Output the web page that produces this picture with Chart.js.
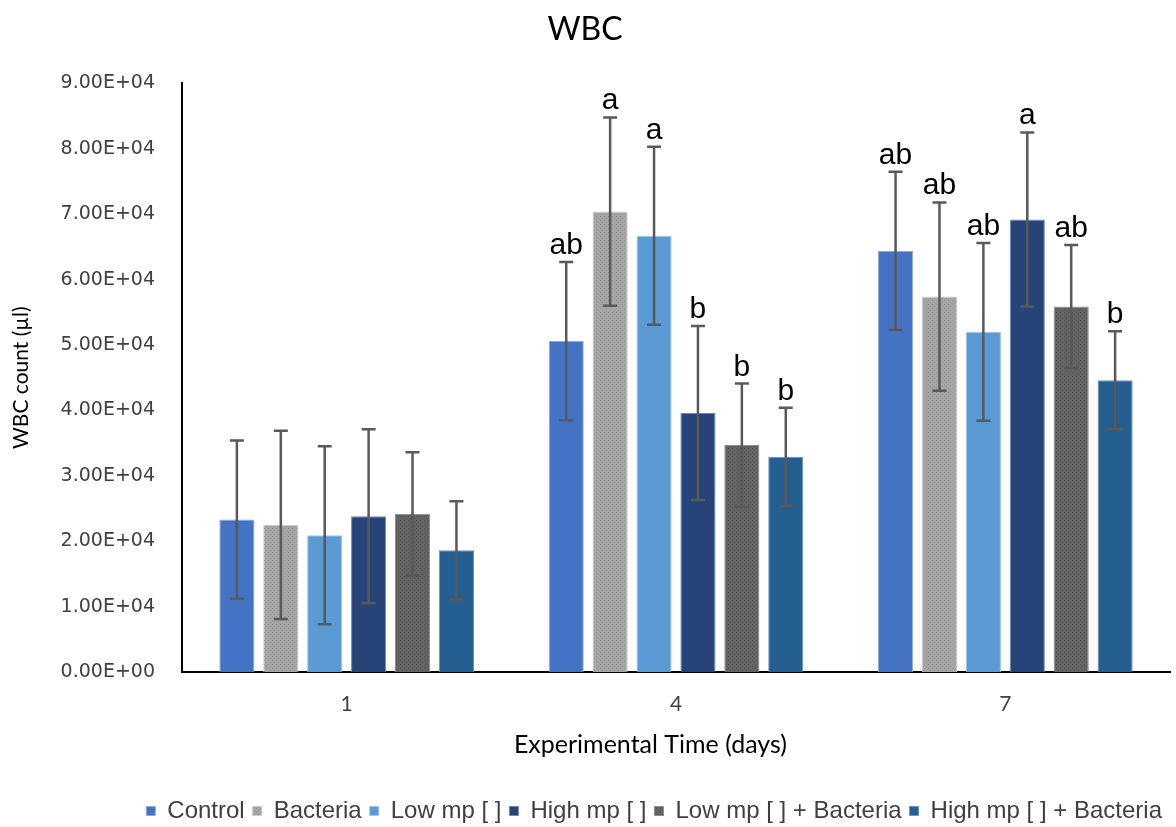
<!DOCTYPE html>
<html lang="en">

<head>
    <title>WBC</title>
    <meta charset="utf-8">
    <script src="https://cdn.jsdelivr.net/npm/chart.js"></script>
    <style>
        html, body { margin: 0; padding: 0; background: #fff; }
        #wrap { width: 1176px; height: 827px; }
    </style>
</head>

<body>
    <div id="wrap">
        <canvas id="wbcChart"></canvas>
    </div>

    <script>
        // data
        const days = ['1', '4', '7'];
        const seriesNames = ['Control', 'Bacteria', 'Low mp [ ]', 'High mp [ ]', 'Low mp [ ] + Bacteria', 'High mp [ ] + Bacteria'];
        const control = [23300, 50600, 64400];
        const bacteria = [22500, 70400, 57400];
        const lowMp = [20900, 66700, 52000];
        const highMp = [23800, 39600, 69200];
        const lowMpBacteria = [24200, 34700, 55900];
        const highMpBacteria = [18600, 32900, 44600];
        // one error size per series (same for every day)
        const errors = [12100, 14400, 13600, 13300, 9400, 7500];
        const letters4 = ['ab', 'a', 'a', 'b', 'b', 'b'];
        const letters7 = ['ab', 'ab', 'ab', 'a', 'ab', 'b'];
        const yTickLabels = ['0.00E+00', '1.00E+04', '2.00E+04', '3.00E+04', '4.00E+04', '5.00E+04', '6.00E+04', '7.00E+04', '8.00E+04', '9.00E+04'];

        const allValues = [control, bacteria, lowMp, highMp, lowMpBacteria, highMpBacteria];
        const letters = [[], letters4, letters7];

        // speckled fill like the excel texture
        const speckle = (base, dot) => {
            const c = document.createElement('canvas');
            c.width = 4; c.height = 4;
            const g = c.getContext('2d');
            g.fillStyle = base;
            g.fillRect(0, 0, 4, 4);
            g.fillStyle = dot;
            g.fillRect(0, 0, 1, 1);
            g.fillRect(2, 2, 1, 1);
            return g.createPattern(c, 'repeat');
        };

        const colors = ['#4472C4', speckle('#A5A5A5', '#959595'), '#5B9BD5', '#264478', speckle('#636363', '#555555'), '#255E91'];
        const edges = ['#8FAADC', '#C9C9C9', '#9DC3E6', '#6F87B3', '#8C8C8C', '#6C93BA'];

        const errorBars = {
            id: 'errorBars',
            afterDatasetsDraw(chart) {
                const ctx = chart.ctx;
                const y = chart.scales.y;
                ctx.save();
                chart.data.datasets.forEach((ds, i) => {
                    const meta = chart.getDatasetMeta(i);
                    meta.data.forEach((bar, j) => {
                        const v = ds.data[j];
                        const top = y.getPixelForValue(v + errors[i]);
                        const bot = y.getPixelForValue(v - errors[i]);
                        ctx.strokeStyle = '#595959';
                        ctx.lineWidth = 2.5;
                        ctx.beginPath();
                        ctx.moveTo(bar.x, top);
                        ctx.lineTo(bar.x, bot);
                        ctx.moveTo(bar.x - 7, top);
                        ctx.lineTo(bar.x + 7, top);
                        ctx.moveTo(bar.x - 7, bot);
                        ctx.lineTo(bar.x + 7, bot);
                        ctx.stroke();
                        const t = letters[j][i];
                        if (t) {
                            ctx.fillStyle = '#000';
                            ctx.font = '30px "Liberation Sans", Arial, sans-serif';
                            ctx.textAlign = 'center';
                            ctx.textBaseline = 'alphabetic';
                            ctx.fillText(t, bar.x, top - 8);
                        }
                    });
                });
                ctx.restore();
            }
        };

        const ctx = document.getElementById('wbcChart').getContext('2d');
        const wbcChart = new Chart(ctx, {
            type: 'bar',
            data: {
                labels: days,
                datasets: seriesNames.map((name, i) => ({
                    label: name,
                    data: allValues[i],
                    backgroundColor: colors[i],
                    borderColor: edges[i],
                    borderWidth: 1,
                    categoryPercentage: 0.8,
                    barPercentage: 0.8
                }))
            },
            plugins: [errorBars],
            options: {
                responsive: true,
                maintainAspectRatio: false,
                animation: false,
                layout: { padding: { left: 0, right: 6, top: 0, bottom: -6 } },
                plugins: {
                    title: {
                        display: true,
                        text: 'WBC',
                        color: '#000',
                        font: { family: 'Lato', size: 32, weight: 'normal' },
                        padding: { top: 10, bottom: 35 }
                    },
                    legend: {
                        position: 'bottom',
                        align: 'end',
                        labels: {
                            boxWidth: 9,
                            boxHeight: 9,
                            padding: 8,
                            color: '#404040',
                            font: { family: '"Liberation Sans Narrow", "Liberation Sans", sans-serif', size: 24 }
                        }
                    },
                    tooltip: { enabled: false }
                },
                scales: {
                    x: {
                        grid: { display: false, drawTicks: false },
                        border: { color: '#000', width: 2 },
                        ticks: { color: '#404040', padding: 20, font: { family: 'Lato', size: 21 } },
                        title: {
                            display: true,
                            // trailing spaces pull the centred title left like the original
                            text: 'Experimental Time (days)\u00a0\u00a0\u00a0\u00a0\u00a0\u00a0\u00a0\u00a0',
                            color: '#000',
                            font: { family: 'Lato', size: 25 },
                            padding: { top: 0, bottom: 31 }
                        },
                        afterFit: (scale) => { scale.height = 119; }
                    },
                    y: {
                        min: 0,
                        max: 90000,
                        grid: { display: false, drawTicks: false },
                        border: { color: '#000', width: 2 },
                        ticks: {
                            stepSize: 10000,
                            padding: 27,
                            color: '#404040',
                            font: { family: '"DejaVu Sans", sans-serif', size: 19 },
                            callback: (value, index) => yTickLabels[index]
                        },
                        title: {
                            display: true,
                            text: 'WBC count (µl)',
                            color: '#000',
                            font: { family: 'Lato', size: 21 },
                            padding: { top: 9, bottom: 0 }
                        },
                        afterFit: (scale) => { scale.width = 182; }
                    }
                }
            }
        });
    </script>
</body>

</html>
